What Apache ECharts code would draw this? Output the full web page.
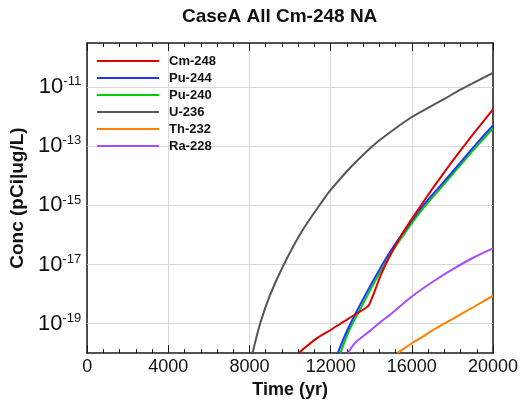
<!DOCTYPE html>
<html>
<head>
<meta charset="utf-8">
<script src="https://cdn.jsdelivr.net/npm/echarts@6/dist/echarts.min.js"></script>
<style>
  html, body { margin: 0; padding: 0; background: #fff; }
  #chart { width: 524px; height: 404px; }
</style>
</head>
<body>
<div id="chart"></div>
<script>
// Concentration histories (pCi|ug/L) over time (yr), one pair of arrays per nuclide
const cm248Time = [10430, 10800, 11210, 11600, 12040, 12600, 13170, 13870, 14470, 15000, 15450, 16000, 17000, 18000, 19000, 20000];
const cm248Conc = [1.0e-20, 1.66e-20, 2.8e-20, 4.2e-20, 6.3e-20, 1.12e-19, 1.95e-19, 4.1e-19, 4.4e-18, 2.5e-17, 8.9e-17, 3.5e-16, 3.55e-15, 3.16e-14, 2.5e-13, 1.78e-12];

const pu244Time = [12350, 12800, 13330, 14150, 15000, 15940, 16500, 17410, 18390, 19200, 20000];
const pu244Conc = [1.0e-20, 5.6e-20, 3.0e-19, 3.3e-18, 3.2e-17, 2.7e-16, 8.9e-16, 4.7e-15, 2.8e-14, 1.26e-13, 5.1e-13];

const pu240Time = [12480, 12900, 13450, 14250, 15100, 16000, 16500, 17410, 18390, 19200, 20000];
const pu240Conc = [1.0e-20, 5.6e-20, 3.0e-19, 3.2e-18, 3.2e-17, 2.5e-16, 7.1e-16, 3.8e-15, 2.3e-14, 1.0e-13, 4.0e-13];

const u236Time = [8150, 8525, 9000, 9670, 10560, 11670, 12030, 13000, 13985, 14470, 15940, 17000, 17570, 18390, 20000];
const u236Conc = [1.0e-20, 1.0e-19, 8.9e-19, 9.3e-18, 1.26e-16, 1.66e-15, 3.55e-15, 2.0e-14, 9.1e-14, 1.74e-13, 9.3e-13, 2.4e-12, 3.9e-12, 8.3e-12, 3.1e-11];

const th232Time = [15290, 15600, 16020, 16500, 17080, 18060, 19000, 20000];
const th232Conc = [1.0e-20, 1.41e-20, 2.2e-20, 3.5e-20, 6.2e-20, 1.51e-19, 3.5e-19, 8.7e-19];

const ra228Time = [12850, 13200, 13985, 14500, 15000, 16000, 17000, 18060, 19000, 20000];
const ra228Conc = [1.0e-20, 2.2e-20, 6.0e-20, 1.2e-19, 2.2e-19, 8.3e-19, 2.5e-18, 7.2e-18, 1.66e-17, 3.5e-17];

const seriesNames = ['Cm-248', 'Pu-244', 'Pu-240', 'U-236', 'Th-232', 'Ra-228'];
const seriesColors = ['#e00000', '#2233ff', '#00d000', '#555555', '#ff8000', '#a64dff'];
const seriesTimes = [cm248Time, pu244Time, pu240Time, u236Time, th232Time, ra228Time];
const seriesConcs = [cm248Conc, pu244Conc, pu240Conc, u236Conc, th232Conc, ra228Conc];

// Decade exponents that carry a tick label on the concentration axis
const yLabelExponents = [-19, -17, -15, -13, -11];

const FONT = "'Liberation Sans', Arial, Helvetica, sans-serif";
const AXIS_COLOR = '#1a1a1a';
const GRID_COLOR = '#d9d9d9';

const chart = echarts.init(document.getElementById('chart'), null, { renderer: 'canvas' });

// Concentrations are plotted as decade exponents on a linear axis
const toPairs = (ts, cs) => ts.map((t, i) => [t, Math.log10(cs[i])]);

const series = seriesNames.map((name, i) => ({
  name: name,
  type: 'line',
  xAxisIndex: 0,
  yAxisIndex: 0,
  data: toPairs(seriesTimes[i], seriesConcs[i]),
  showSymbol: false,
  symbol: 'none',
  smooth: name === 'Cm-248' ? 0.15 : 0.3,
  clip: true,
  lineStyle: { color: seriesColors[i], width: 2 },
  itemStyle: { color: seriesColors[i] },
  z: 10 - i
}));

// Horizontal grid lines at labelled decades, kept beneath legend and curves
series.push({
  type: 'line',
  data: [],
  silent: true,
  z: 1,
  markLine: {
    silent: true,
    z: 1,
    symbol: 'none',
    label: { show: false },
    lineStyle: { color: GRID_COLOR, width: 1, type: 'solid' },
    data: yLabelExponents.map(e => ({ yAxis: e }))
  }
});

const yMin = -20, yMax = -9.5;

const option = {
  backgroundColor: '#ffffff',
  animation: false,
  title: {
    text: 'CaseA All Cm-248 NA',
    left: 182,
    top: 7,
    padding: 0,
    textStyle: { fontFamily: FONT, fontSize: 19, fontWeight: 'bold', color: '#111' }
  },
  legend: {
    data: seriesNames.map((n, i) => ({ name: n, icon: 'rect', itemStyle: { color: seriesColors[i] } })),
    orient: 'vertical',
    left: 97,
    top: 54,
    padding: 0,
    z: 20,
    itemWidth: 62,
    itemHeight: 2,
    itemGap: 3,
    selectedMode: false,
    textStyle: { fontFamily: FONT, fontSize: 13, fontWeight: 'bold', color: '#111', lineHeight: 14, padding: [0, 0, 0, 5] }
  },
  grid: { left: 84, right: 31, top: 43, bottom: 48, containLabel: false },
  xAxis: [
    {
      type: 'value', position: 'bottom', min: 0, max: 20000, interval: 4000,
      name: 'Time (yr)', nameLocation: 'middle', nameGap: 21,
      nameTextStyle: { fontFamily: FONT, fontSize: 18, fontWeight: 'bold', color: '#111' },
      axisLine: { show: true, onZero: false, lineStyle: { color: AXIS_COLOR, width: 1.5 } },
      axisTick: { show: true, inside: true, length: 8, lineStyle: { color: AXIS_COLOR, width: 1 } },
      minorTick: { show: true, splitNumber: 5, length: 4, lineStyle: { color: AXIS_COLOR, width: 1 } },
      axisLabel: { fontFamily: FONT, fontSize: 18, color: '#111', margin: 5, formatter: v => String(v) },
      splitLine: { show: true, lineStyle: { color: GRID_COLOR, width: 1 } }
    },
    {
      type: 'value', position: 'top', min: 0, max: 20000, interval: 4000,
      axisLine: { show: true, onZero: false, lineStyle: { color: AXIS_COLOR, width: 1.5 } },
      axisTick: { show: true, inside: true, length: 8, lineStyle: { color: AXIS_COLOR, width: 1 } },
      minorTick: { show: true, splitNumber: 5, length: 4, lineStyle: { color: AXIS_COLOR, width: 1 } },
      axisLabel: { show: false },
      splitLine: { show: false }
    }
  ],
  yAxis: [
    {
      type: 'value', position: 'left', min: yMin, max: yMax, interval: 1,
      name: 'Conc (pCi|ug/L)', nameLocation: 'middle', nameGap: 44, nameRotate: 90,
      nameTextStyle: { fontFamily: FONT, fontSize: 19, fontWeight: 'bold', color: '#111' },
      axisLine: { show: true, onZero: false, lineStyle: { color: AXIS_COLOR, width: 1.5 } },
      axisTick: { show: true, inside: true, length: 8, customValues: yLabelExponents, lineStyle: { color: AXIS_COLOR, width: 1 } },
      axisLabel: {
        customValues: yLabelExponents,
        margin: 6,
        formatter: v => (yLabelExponents.indexOf(Math.round(v)) >= 0 && Math.abs(v - Math.round(v)) < 1e-6) ? '{b|10}{s|' + Math.round(v) + '}' : '',
        rich: {
          b: { fontFamily: FONT, fontSize: 22, color: '#111', lineHeight: 24 },
          s: { fontFamily: FONT, fontSize: 13, color: '#111', verticalAlign: 'top', lineHeight: 24, padding: [0, 0, 10, 0] }
        }
      },
      splitLine: { show: false }
    },
    {
      type: 'value', position: 'right', min: yMin, max: yMax, interval: 1,
      axisLine: { show: true, onZero: false, lineStyle: { color: AXIS_COLOR, width: 1.5 } },
      axisTick: { show: true, inside: true, length: 8, customValues: yLabelExponents, lineStyle: { color: AXIS_COLOR, width: 1 } },
      axisLabel: { show: false },
      splitLine: { show: false }
    }
  ],
  series: series
};

chart.setOption(option);
</script>
</body>
</html>
